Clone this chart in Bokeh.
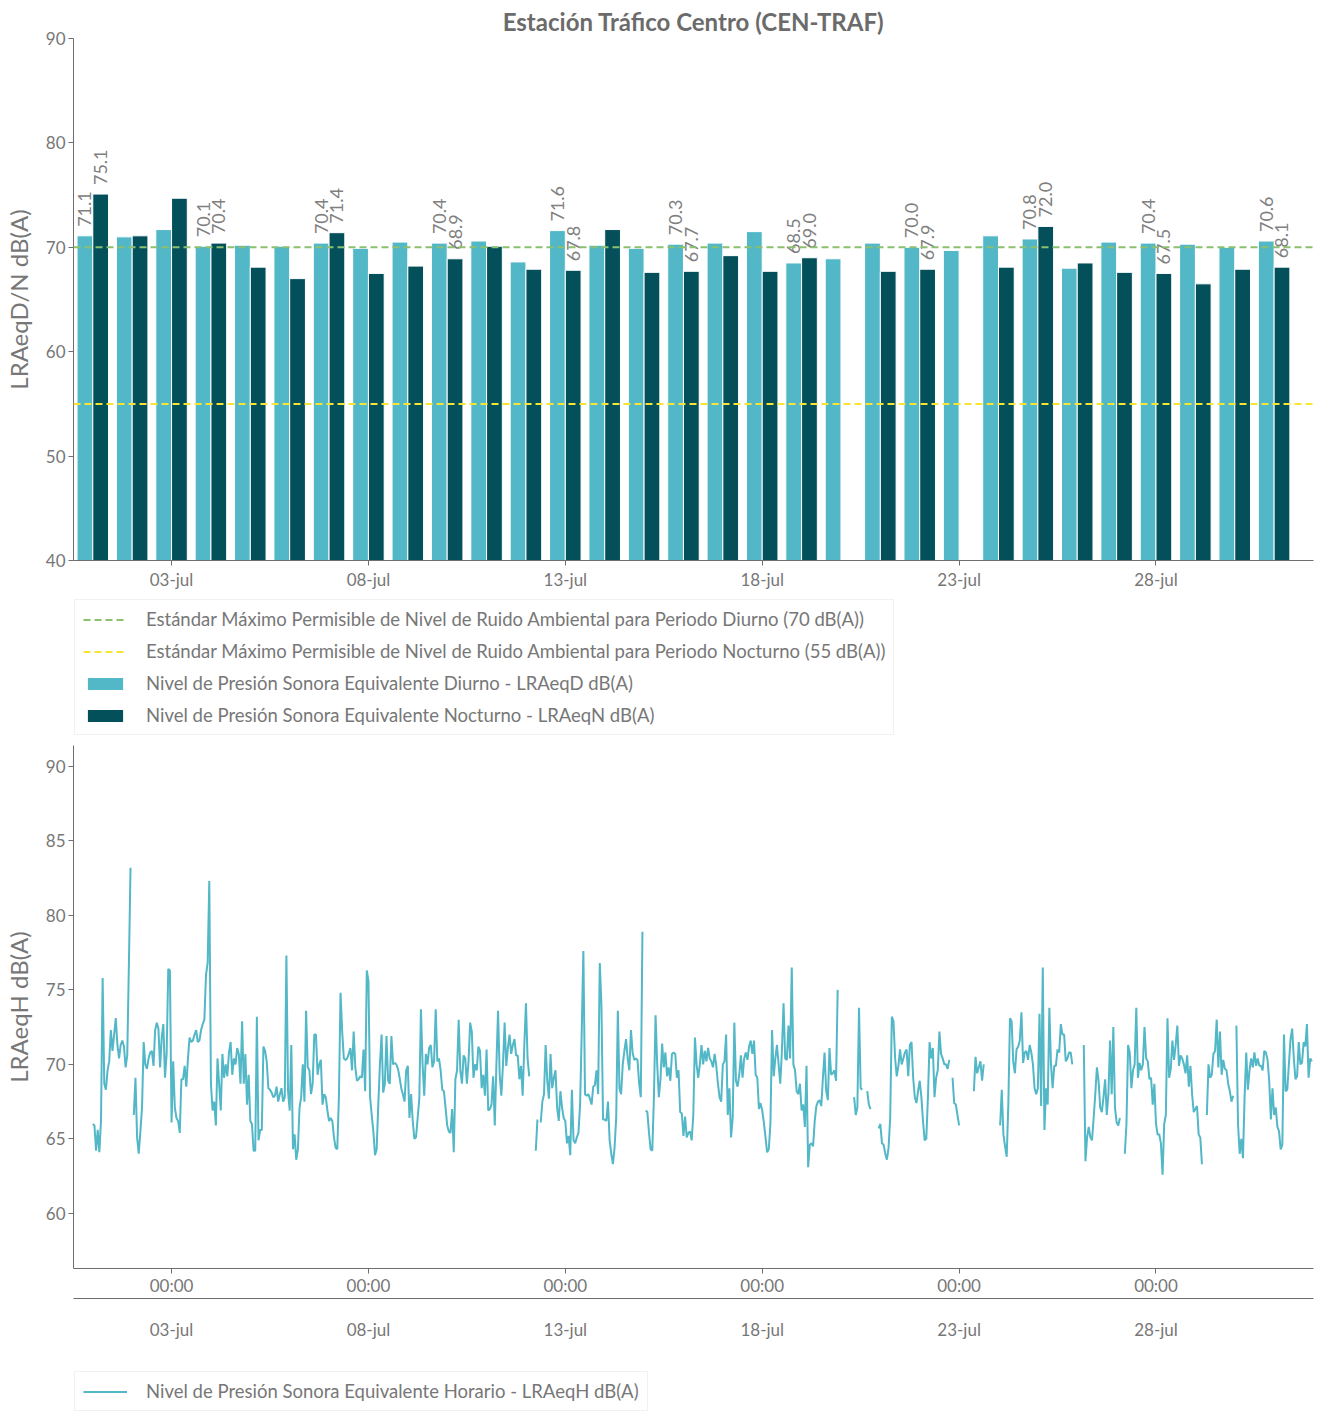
import numpy as np
from bokeh.core.properties import value
from bokeh.embed import file_html
from bokeh.layouts import column
from bokeh.models import (ColumnDataSource, FixedTicker, Legend, LegendItem,
                          LinearAxis, Range1d, Span)
from bokeh.plotting import figure
from bokeh.resources import INLINE
from bokeh.transform import dodge

NA = np.nan

# --- data -------------------------------------------------------------------
# day index 0 = 01-jul ... 30 = 31-jul
DAY_INDEX = list(range(31))
TICK_DAYS = [2, 7, 12, 17, 22, 27]
TICK_DATES = ["03-jul", "08-jul", "13-jul", "18-jul", "23-jul", "28-jul"]
TICK_HOURS = ["00:00"] * len(TICK_DAYS)

LIMIT_DAY = 70
LIMIT_NIGHT = 55

LRAEQD = [71.1, 71.0, 71.7, 70.1, 70.2, 70.1, 70.4, 69.9, 70.5, 70.4, 70.6,
          68.6, 71.6, 70.2, 69.9, 70.3, 70.4, 71.5, 68.5, 68.9, 70.4, 70.0,
          69.7, 71.1, 70.8, 68.0, 70.5, 70.4, 70.3, 70.0, 70.6]
LRAEQN = [75.1, 71.1, 74.7, 70.4, 68.1, 67.0, 71.4, 67.5, 68.2, 68.9, 70.1,
          67.9, 67.8, 71.7, 67.6, 67.7, 69.2, 67.7, 69.0, NA, 67.7, 67.9,
          NA, 68.1, 72.0, 68.5, 67.6, 67.5, 66.5, 67.9, 68.1]
LABELLED_DAYS = [0, 3, 6, 9, 12, 15, 18, 21, 24, 27, 30]

# hourly LRAeqH, one list of 24 hours per day
LRAEQH_BY_DAY = [
    [66.0, 65.9, 64.2, 65.6, 64.1, 66.2, 75.8, 68.7, 68.3, 69.6, 70.2, 72.3, 70.9, 72.0, 73.1, 71.3, 70.4, 71.3, 71.6, 71.2, 69.8, 70.6, 76.7, 83.2],
    [NA, 66.6, 69.1, 65.1, 64.0, 65.5, 67.1, 71.5, 70.0, 69.7, 70.4, 70.8, 70.9, 69.9, 72.3, 72.8, 72.4, 69.8, 71.8, 72.7, 69.1, 70.7, 76.4, 76.3],
    [66.1, 70.2, 67.1, 66.4, 66.2, 65.4, 69.0, 69.0, 69.9, 68.5, 70.4, 71.8, 71.5, 71.6, 72.0, 72.3, 71.5, 71.6, 72.3, 72.7, 73.0, 76.0, 76.8, 82.3],
    [68.7, 66.9, 67.5, 65.9, 70.4, 68.7, 66.9, 70.7, 69.1, 70.0, 69.2, 70.8, 71.5, 69.3, 70.4, 70.0, 71.1, 70.7, 68.7, 72.9, 68.7, 70.7, 67.3, 69.3],
    [66.2, 66.0, 64.2, 64.2, 73.2, 64.9, 65.6, 65.6, 71.2, 70.9, 70.2, 68.4, 68.3, 68.1, 67.8, 67.9, 68.5, 67.5, 68.0, 68.4, 67.5, 67.8, 77.3, 68.2],
    [66.9, 71.3, 64.3, 65.3, 63.6, 64.3, 67.1, 67.8, 70.0, 67.5, 73.6, 69.8, 69.6, 68.0, 68.7, 72.0, 72.0, 69.3, 70.0, 70.3, 67.3, 68.0, 67.8, 66.9],
    [66.2, 66.4, 66.2, 65.1, 64.4, 64.3, 67.8, 74.8, 72.2, 70.4, 70.3, 70.4, 70.7, 71.1, 69.6, 72.2, 69.8, 68.9, 69.0, 69.2, 69.1, 71.0, 68.2, 76.3],
    [75.6, 67.8, 66.6, 65.5, 63.9, 64.3, 67.3, 70.0, 72.0, 68.1, 68.7, 71.9, 68.9, 68.7, 71.9, 70.0, 70.1, 70.0, 69.7, 69.1, 68.4, 68.0, 67.5, 69.6],
    [69.9, 66.4, 68.0, 66.2, 65.0, 65.1, 66.4, 67.7, 73.7, 70.0, 67.9, 70.7, 70.0, 71.1, 71.3, 69.8, 70.2, 73.7, 70.2, 70.4, 69.6, 68.3, 68.2, 67.1],
    [65.9, 65.5, 65.4, 67.0, 64.1, 69.0, 69.6, 73.0, 69.6, 68.7, 70.6, 70.4, 68.7, 70.2, 72.8, 72.2, 69.1, 70.0, 69.6, 71.2, 70.9, 68.4, 69.3, 67.9],
    [71.0, 66.9, 67.0, 67.3, 69.2, 65.9, 70.0, 73.6, 69.3, 67.9, 70.0, 72.8, 69.9, 71.1, 72.0, 70.7, 71.3, 71.7, 70.6, 70.6, 69.0, 69.9, 67.9, 71.3],
    [74.1, 70.4, 69.2, NA, NA, NA, 64.2, 66.3, NA, 66.1, 67.5, 68.0, 71.3, 68.9, 67.7, 70.7, 68.4, 69.1, 69.6, 67.1, 66.2, 68.2, 67.1, 66.4],
    [66.2, 64.7, 65.2, 63.9, 68.3, 64.9, 64.7, 65.1, 65.4, 67.3, 72.2, 77.6, 68.0, 67.9, 68.0, 67.7, 67.3, 68.5, 68.6, 69.6, 68.0, 76.8, 74.0, 66.3],
    [66.3, 66.2, 67.5, 64.9, 64.0, 63.3, 64.4, 66.4, 73.6, 68.4, 68.0, 70.0, 70.9, 71.7, 70.4, 69.6, 72.3, 70.8, 70.3, 70.4, 70.3, 68.7, 67.8, 78.9],
    [NA, 66.9, 66.8, 65.4, 64.3, 64.2, 67.8, 73.3, 70.0, 67.8, 69.0, 71.4, 69.8, 70.8, 69.2, 69.8, 68.9, 70.7, 70.8, 70.7, 69.1, 69.6, 66.8, 66.7],
    [65.2, 66.5, 65.1, 65.4, 65.5, 64.9, 66.6, 71.8, 70.0, 69.1, 70.0, 71.3, 70.0, 70.9, 70.2, 71.1, 70.4, 70.2, 69.8, 70.7, 69.9, 68.7, 67.8, 67.5],
    [70.0, 70.2, 72.0, 66.6, 68.4, 65.1, 66.4, 72.8, 68.9, 68.5, 69.3, 70.6, 69.1, 70.4, 70.8, 70.3, 71.2, 71.6, 70.7, 71.6, 69.3, 69.1, 67.0, 67.4],
    [66.9, 66.1, 65.1, 64.1, 64.3, 66.0, 72.3, 69.2, 70.4, 71.3, 70.0, 68.7, 70.9, 74.1, 70.4, 70.3, 72.6, 70.4, 76.5, 70.0, 69.6, 68.2, 68.0, 68.7],
    [66.9, 67.3, 65.8, 69.9, 63.1, 64.6, 64.7, 64.5, 66.2, 67.2, 67.5, 67.6, 67.2, 69.1, 70.8, 68.2, 67.6, 71.1, 69.3, 69.4, 69.6, 68.9, 75.0, NA],
    [NA, NA, NA, NA, NA, NA, NA, NA, 67.8, 66.6, 67.1, 73.8, 68.4, 68.3, NA, NA, 68.2, 67.3, 67.0, NA, NA, NA, NA, 65.7],
    [66.0, 64.7, 64.6, 64.0, 63.6, 64.4, 66.4, 73.2, 72.9, 70.4, 69.2, 69.9, 71.0, 70.0, 70.4, 70.8, 71.0, 69.2, 71.3, 71.5, 69.1, 67.8, 67.4, 68.2],
    [68.9, 67.8, 66.2, 64.9, 65.0, 67.8, 71.5, 70.4, 71.1, 67.8, 69.1, 69.6, 72.2, 70.7, 70.4, 70.0, 70.0, 69.7, 70.3, NA, 69.1, 67.4, 67.3, 66.6],
    [65.9, NA, NA, NA, NA, NA, NA, NA, NA, 68.2, 70.5, 69.4, 69.8, 70.2, 68.9, 70.0, NA, NA, NA, NA, NA, NA, NA, NA],
    [NA, 65.9, 68.3, 65.3, 64.5, 63.8, 67.3, 73.1, 72.9, 70.2, 69.4, 71.0, 71.2, 71.6, 73.5, 70.1, 70.8, 70.9, 70.3, 71.3, 70.8, 70.0, 68.4, 68.0],
    [68.4, 73.4, 67.2, 76.5, 65.6, 68.4, 67.3, 73.8, 70.0, 68.4, 69.9, 69.9, 71.0, 70.8, 72.7, 72.0, 72.0, 70.2, 70.4, 70.8, 70.8, 70.0, NA, NA],
    [NA, NA, NA, NA, 71.3, 63.5, 65.1, 65.8, 65.1, 64.9, 66.4, 68.0, 69.8, 68.9, 67.1, 66.8, 67.8, 69.0, 66.6, 68.0, 71.6, 68.0, 72.5, 67.1],
    [66.1, 65.9, 66.4, NA, NA, 64.0, 66.0, 71.3, 70.8, 68.4, 69.6, 70.0, 73.8, 69.1, 70.1, 69.6, 70.0, 72.5, 70.4, 70.2, 69.0, 69.1, 67.3, 68.7],
    [66.0, 65.3, 65.3, 64.7, 62.6, 66.0, 66.6, 73.1, 69.1, 69.7, 71.6, 70.3, 71.3, 72.6, 69.9, 70.6, 70.4, 70.0, 69.4, 70.6, 68.5, 69.9, 68.0, 66.8],
    [67.0, 67.2, 65.3, 65.1, 63.3, NA, NA, 66.6, 70.0, 69.1, 69.3, 70.7, 70.9, 73.0, 69.8, 72.2, 69.3, 70.3, 69.7, 69.6, 68.7, 68.2, 67.5, 67.9],
    [NA, 72.6, 66.0, 64.0, 65.0, 63.7, 67.8, 70.8, 68.3, 69.6, 70.4, 69.8, 70.8, 69.9, 70.4, 69.9, 69.9, 69.6, 70.9, 70.8, 70.3, 68.9, 66.3, 68.4],
    [66.6, 67.1, 65.8, 65.5, 64.3, 64.6, 72.0, 68.2, 68.3, 70.0, 71.7, 72.4, 70.4, 69.0, 69.2, 71.5, 70.0, 70.1, 71.5, 71.2, 72.7, 69.1, 70.4, 70.2],
]

# --- styling ----------------------------------------------------------------
FONT = "Lato"
GREY = "#777777"
AXIS_GREY = "#6e6e6e"
TEAL = "#52b7c6"
DARK_TEAL = "#04505a"
GREEN = "#8bc06e"
YELLOW = "#fae432"
DASH = "7 4"


def style_axes(p):
    for ax in p.axis:
        ax.axis_line_color = AXIS_GREY
        ax.major_tick_line_color = AXIS_GREY
        ax.major_tick_out = 5
        ax.major_tick_in = 0
        ax.minor_tick_line_color = None
        ax.major_label_standoff = 3
        ax.major_label_text_font = FONT
        ax.major_label_text_font_size = "17px"
        ax.major_label_text_color = GREY
        ax.axis_label_text_font = FONT
        ax.axis_label_text_font_size = "24px"
        ax.axis_label_text_color = GREY
        ax.axis_label_text_font_style = "normal"
        ax.axis_label_standoff = 10
    p.grid.visible = False
    p.outline_line_color = None
    p.background_fill_color = "white"
    p.border_fill_color = "white"


def legend_figure(border_top, frame_height):
    """Axis-less strip that only carries a legend, left-aligned with the plots."""
    f = figure(frame_width=1240, frame_height=frame_height,
               x_range=Range1d(0, 1), y_range=Range1d(0, 1),
               x_axis_type=None, y_axis_type=None,
               min_border_left=73, min_border_right=6,
               min_border_top=border_top, min_border_bottom=0,
               output_backend="svg", toolbar_location=None)
    f.outline_line_color = None
    return f


def make_legend(items):
    leg = Legend(items=items, location="top_left")
    leg.margin = 1
    leg.padding = 8
    leg.spacing = 10
    leg.glyph_width = 44
    leg.glyph_height = 15
    leg.label_height = 22
    leg.label_standoff = 19
    leg.label_text_font = FONT
    leg.label_text_font_size = "18.5px"
    leg.label_text_color = GREY
    leg.border_line_color = "#e3e3e3"
    leg.border_line_width = 1
    leg.background_fill_alpha = 1
    return leg


x_range = Range1d(-0.49, 31.0)

# --- top: daily D/N bars ----------------------------------------------------
top = figure(frame_width=1240, frame_height=522, x_range=x_range,
             y_range=Range1d(40, 90), min_border_left=73, min_border_right=6,
             min_border_top=38, min_border_bottom=30,
             title="Estación Tráfico Centro (CEN-TRAF)",
             y_axis_label="LRAeqD/N dB(A)",
             output_backend="svg", toolbar_location=None)
top.title.text_font = FONT
top.title.text_font_size = "24px"
top.title.text_font_style = "bold"
top.title.text_color = "#6b6b6b"
top.title.align = "center"
top.title.standoff = 6

bars = ColumnDataSource(dict(day=DAY_INDEX, d=LRAEQD, n=LRAEQN))
top.vbar(x=dodge("day", -0.2, range=x_range), top="d", bottom=0,
         width=0.4, source=bars, fill_color=TEAL,
         line_color="white", line_width=1)
top.vbar(x=dodge("day", 0.2, range=x_range), top="n", bottom=0,
         width=0.4, source=bars, fill_color=DARK_TEAL,
         line_color="white", line_width=1)

labels = ColumnDataSource(dict(
    day=[DAY_INDEX[i] for i in LABELLED_DAYS],
    d=[LRAEQD[i] for i in LABELLED_DAYS],
    n=[LRAEQN[i] for i in LABELLED_DAYS],
    dt=[f"{LRAEQD[i]:.1f}" for i in LABELLED_DAYS],
    nt=[f"{LRAEQN[i]:.1f}" for i in LABELLED_DAYS],
))
for col, txt, off in (("d", "dt", -0.2), ("n", "nt", 0.2)):
    top.text(x=dodge("day", off, range=x_range), y=col, text=txt, source=labels,
             angle=np.pi / 2, text_align="left", text_baseline="middle",
             y_offset=-9, text_font=value(FONT), text_font_size="18px",
             text_color="#808080")

top.add_layout(Span(location=LIMIT_DAY, dimension="width", line_color=GREEN,
                    line_dash=DASH, line_width=2))
top.add_layout(Span(location=LIMIT_NIGHT, dimension="width", line_color=YELLOW,
                    line_dash=DASH, line_width=2))

top.xaxis.ticker = FixedTicker(ticks=TICK_DAYS)
top.xaxis.major_label_overrides = dict(zip(TICK_DAYS, TICK_DATES))
top.yaxis.ticker = FixedTicker(ticks=[40, 50, 60, 70, 80, 90])
style_axes(top)

# legend strip for the top chart (swatches only, no data)
leg1 = legend_figure(6, 141)
sw_d = leg1.line(x=[0], y=[NA], line_color=GREEN, line_dash=DASH, line_width=2)
sw_n = leg1.line(x=[0], y=[NA], line_color=YELLOW, line_dash=DASH, line_width=2)
sw_day = leg1.vbar(x=[0], top=[NA], width=0.1, fill_color=TEAL, line_color=None)
sw_night = leg1.vbar(x=[0], top=[NA], width=0.1, fill_color=DARK_TEAL, line_color=None)
leg1.add_layout(make_legend([
    LegendItem(label="Estándar Máximo Permisible de Nivel de Ruido Ambiental para Periodo Diurno (70 dB(A))", renderers=[sw_d]),
    LegendItem(label="Estándar Máximo Permisible de Nivel de Ruido Ambiental para Periodo Nocturno (55 dB(A))", renderers=[sw_n]),
    LegendItem(label="Nivel de Presión Sonora Equivalente Diurno - LRAeqD dB(A)", renderers=[sw_day]),
    LegendItem(label="Nivel de Presión Sonora Equivalente Nocturno - LRAeqN dB(A)", renderers=[sw_night]),
]))

# --- bottom: hourly line ----------------------------------------------------
hourly = np.array(LRAEQH_BY_DAY, dtype=float).ravel()
hour_x = np.arange(hourly.size) / 24.0

bot = figure(frame_width=1240, frame_height=523, x_range=x_range,
             y_range=Range1d(56.3, 91.4), min_border_left=73,
             min_border_right=6, min_border_top=6, min_border_bottom=75,
             y_axis_label="LRAeqH dB(A)",
             output_backend="svg", toolbar_location=None)
bot.line(hour_x, hourly, line_color=TEAL, line_width=2)

bot.xaxis.ticker = FixedTicker(ticks=TICK_DAYS)
bot.xaxis.major_label_overrides = dict(zip(TICK_DAYS, TICK_HOURS))
bot.yaxis.ticker = FixedTicker(ticks=[60, 65, 70, 75, 80, 85, 90])
date_axis = LinearAxis(ticker=FixedTicker(ticks=TICK_DAYS),
                       major_label_overrides=dict(zip(TICK_DAYS, TICK_DATES)))
bot.add_layout(date_axis, "below")
style_axes(bot)
bot.xaxis[0].major_label_standoff = 1
date_axis.major_tick_out = 0
date_axis.major_label_standoff = 20

leg2 = legend_figure(27, 42)
sw_hour = leg2.line(x=[0], y=[NA], line_color=TEAL, line_width=2)
leg2.add_layout(make_legend([
    LegendItem(label="Nivel de Presión Sonora Equivalente Horario - LRAeqH dB(A)", renderers=[sw_hour]),
]))

layout = column(top, leg1, bot, leg2, spacing=0)
open("out.html", "w").write(file_html(layout, INLINE))
